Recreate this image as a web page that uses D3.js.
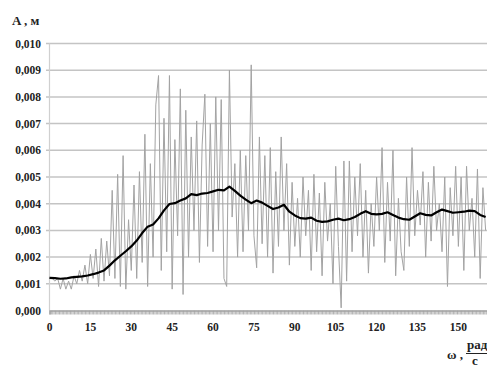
<!DOCTYPE html>
<html>
    <head>
        <meta charset="utf-8" />
        <script src="https://d3js.org/d3.v7.min.js"></script>
        <style>
            body {
                margin: 0;
                background: #fff;
            }
            svg {
                display: block;
                font-family: 'Liberation Serif', 'DejaVu Serif', serif;
                font-weight: bold;
            }
        </style>
    </head>
    <body>
        <svg width="487" height="367"></svg>
        <script>
            // grey curve, one value per 1 rad/s (ω = 0..160)
            const amplitude = [
                0.0012, 0.0012, 0.0011, 0.0012, 0.0008, 0.0012, 0.0008, 0.0011, 0.0008, 0.0013,
                0.0010, 0.0015, 0.0011, 0.0017, 0.0010, 0.0021, 0.0012, 0.0023, 0.0009, 0.0027,
                0.0011, 0.0026, 0.0013, 0.0045, 0.0012, 0.0051, 0.0009, 0.0058, 0.0008, 0.0034,
                0.0015, 0.0047, 0.0012, 0.0052, 0.0018, 0.0066, 0.0009, 0.0055, 0.0020, 0.0077,
                0.0088, 0.0015, 0.0072, 0.0022, 0.0088, 0.0008, 0.0064, 0.0028, 0.0083, 0.0006,
                0.0075, 0.0020, 0.0065, 0.0030, 0.0071, 0.0018, 0.0062, 0.0081, 0.0024, 0.0070,
                0.0022, 0.0080, 0.0030, 0.0079, 0.0012, 0.0009, 0.0090, 0.0035, 0.0055, 0.0020,
                0.0060, 0.0022, 0.0058, 0.0030, 0.0092, 0.0028, 0.0016, 0.0065, 0.0025, 0.0058,
                0.0020, 0.0061, 0.0014, 0.0052, 0.0024, 0.0065, 0.0030, 0.0055, 0.0017, 0.0048,
                0.0024, 0.0042, 0.0020, 0.0050, 0.0028, 0.0045, 0.0015, 0.0051, 0.0022, 0.0044,
                0.0013, 0.0048, 0.0026, 0.0040, 0.0010, 0.0054, 0.0024, 0.0001, 0.0056, 0.0011,
                0.0056, 0.0022, 0.0050, 0.0028, 0.0055, 0.0020, 0.0045, 0.0014, 0.0040, 0.0024,
                0.0050, 0.0030, 0.0061, 0.0018, 0.0048, 0.0026, 0.0060, 0.0013, 0.0042, 0.0022,
                0.0015, 0.0050, 0.0024, 0.0061, 0.0028, 0.0045, 0.0032, 0.0052, 0.0020, 0.0048,
                0.0026, 0.0054, 0.0030, 0.0040, 0.0022, 0.0050, 0.0009, 0.0046, 0.0028, 0.0054,
                0.0024, 0.0050, 0.0015, 0.0054, 0.0030, 0.0042, 0.0020, 0.0053, 0.0012, 0.0046,
                0.0030
            ]

            // black smoothed curve, one value per 2 rad/s (ω = 0..160)
            const amplitudeAvg = [
                0.00122, 0.00121, 0.00119, 0.0012, 0.00124, 0.00126, 0.00128, 0.00131, 0.00136, 0.00142,
                0.0015, 0.00168, 0.00188, 0.00205, 0.00222, 0.0024, 0.00262, 0.0029, 0.00314, 0.00322,
                0.00345, 0.00375, 0.00399, 0.00402, 0.00412, 0.0042, 0.00436, 0.00432, 0.00438, 0.0044,
                0.00446, 0.00452, 0.0045, 0.00464, 0.00448, 0.0043, 0.00415, 0.00402, 0.00412, 0.00404,
                0.00392, 0.0038, 0.00386, 0.00396, 0.0037, 0.00356, 0.00346, 0.00344, 0.00348, 0.00336,
                0.00332, 0.00334, 0.0034, 0.00344, 0.00338, 0.00342, 0.0035, 0.00362, 0.00372, 0.00362,
                0.0036, 0.00362, 0.00368, 0.00358, 0.00348, 0.00342, 0.0034, 0.00352, 0.00364, 0.00358,
                0.00356, 0.00368, 0.00378, 0.00372, 0.00366, 0.00368, 0.0037, 0.00374, 0.00372, 0.00358,
                0.0035
            ]

            const yTicks = [0, 0.001, 0.002, 0.003, 0.004, 0.005, 0.006, 0.007, 0.008, 0.009, 0.01]
            const xTicks = [0, 15, 30, 45, 60, 75, 90, 105, 120, 135, 150]

            const svg = d3.select('svg')

            const x = d3.scaleLinear().domain([0, 160.5]).range([49.5, 487])
            const y = d3.scaleLinear().domain([0, 0.01]).range([310.5, 43.5])

            // horizontal grid
            svg.append('g')
                .selectAll('line')
                .data(yTicks.slice(1))
                .enter()
                .append('line')
                .attr('x1', 46)
                .attr('x2', 487)
                .attr('y1', (d) => y(d))
                .attr('y2', (d) => y(d))
                .style('stroke', '#c4c4c4')
                .style('stroke-width', '1.5px')

            // left axis line
            svg.append('line')
                .attr('x1', 49.5)
                .attr('x2', 49.5)
                .attr('y1', y(0.01))
                .attr('y2', y(0))
                .style('stroke', '#d0d0d0')
                .style('stroke-width', '1.2px')

            // y labels
            svg.append('g')
                .selectAll('text')
                .data(yTicks)
                .enter()
                .append('text')
                .attr('x', 41)
                .attr('y', (d) => y(d) + 4)
                .attr('text-anchor', 'end')
                .style('font-size', '11.5px')
                .style('fill', '#222')
                .text((d) => d3.format('.3f')(d).replace('.', ','))

            // dense tick marks on the ω axis (one per category)
            const catTicks = amplitude.flatMap((d, i) => [i, i + 0.5])
            const xAxisG = svg.append('g')
                .attr('transform', 'translate(0,310.5)')
                .call(d3.axisBottom(x).tickValues(catTicks).tickSize(4).tickFormat(''))
            xAxisG.select('.domain').style('stroke', '#a8a8a8').style('stroke-width', '1.5px')
            xAxisG.selectAll('.tick line').style('stroke', '#a0a0a0').style('stroke-width', '0.8px')

            // x labels
            svg.append('g')
                .selectAll('text')
                .data(xTicks)
                .enter()
                .append('text')
                .attr('x', (d) => x(d))
                .attr('y', 331)
                .attr('text-anchor', 'middle')
                .style('font-size', '11.5px')
                .style('fill', '#222')
                .text((d) => d)

            // grey raw curve
            svg.append('path')
                .datum(amplitude)
                .attr('d', d3.line().x((d, i) => x(i)).y((d) => y(d)))
                .style('fill', 'none')
                .style('stroke', '#a3a3a3')
                .style('stroke-width', '1px')

            // black averaged curve
            svg.append('path')
                .datum(amplitudeAvg)
                .attr('d', d3.line().x((d, i) => x(i * 2)).y((d) => y(d)))
                .style('fill', 'none')
                .style('stroke', '#000')
                .style('stroke-width', '2.2px')
                .style('stroke-linejoin', 'round')

            // axis titles
            svg.append('text')
                .attr('x', 12)
                .attr('y', 25)
                .style('font-size', '13px')
                .style('fill', '#222')
                .text('A , м')

            svg.append('text')
                .attr('x', 447)
                .attr('y', 359)
                .style('font-size', '13px')
                .style('fill', '#222')
                .text('ω ,')
            svg.append('text')
                .attr('x', 467)
                .attr('y', 349)
                .style('font-size', '13px')
                .style('fill', '#222')
                .text('рад')
            svg.append('line')
                .attr('x1', 466)
                .attr('x2', 487)
                .attr('y1', 353.5)
                .attr('y2', 353.5)
                .style('stroke', '#222')
                .style('stroke-width', '1px')
            svg.append('text')
                .attr('x', 472)
                .attr('y', 365)
                .style('font-size', '13px')
                .style('fill', '#222')
                .text('с')
        </script>
    </body>
</html>
